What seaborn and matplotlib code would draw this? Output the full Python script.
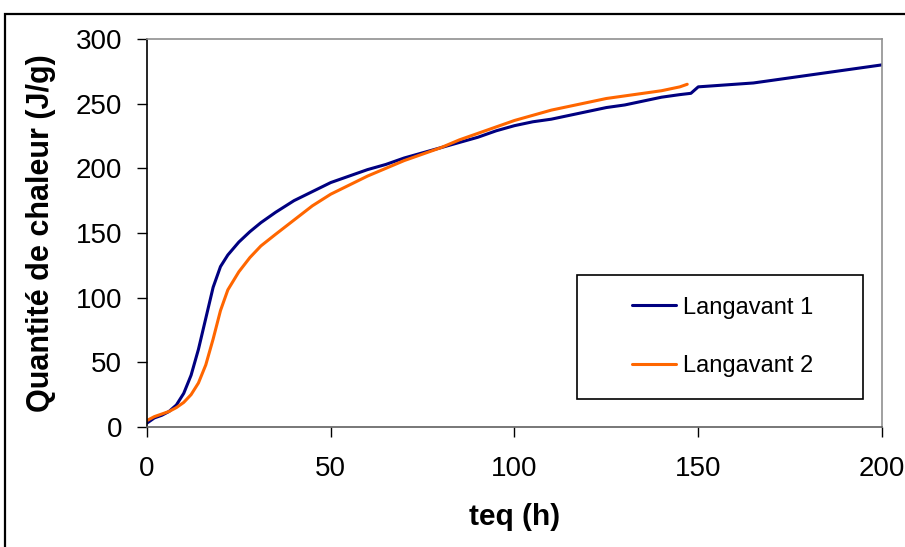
import seaborn as sns
import matplotlib.pyplot as plt
import matplotlib.patches as mpatches
import pandas as pd

# Langavant 1
t1 = [0, 2, 4, 6, 8, 10, 12, 14, 16, 18, 20, 22, 25, 28, 31, 35, 40, 45, 50, 55,
      60, 65, 70, 75, 80, 85, 90, 95, 100, 105, 110, 115, 120, 125, 130, 135, 140,
      145, 148, 150, 155, 160, 165, 170, 175, 180, 185, 190, 195, 200]
q1 = [3, 7, 9, 12, 17, 26, 40, 60, 84, 108, 124, 133, 143, 151, 158, 166, 175, 182,
      189, 194, 199, 203, 208, 212, 216, 220, 224, 229, 233, 236, 238, 241, 244,
      247, 249, 252, 255, 257, 258, 263, 264, 265, 266, 268, 270, 272, 274, 276,
      278, 280]

# Langavant 2
t2 = [0, 2, 4, 6, 8, 10, 12, 14, 16, 18, 20, 22, 25, 28, 31, 35, 40, 45, 50, 55,
      60, 65, 70, 75, 80, 85, 90, 95, 100, 105, 110, 115, 120, 125, 130, 135, 140,
      145, 147]
q2 = [5, 8, 10, 12, 15, 19, 25, 34, 48, 68, 90, 106, 120, 131, 140, 149, 160, 171,
      180, 187, 194, 200, 206, 211, 216, 222, 227, 232, 237, 241, 245, 248, 251,
      254, 256, 258, 260, 263, 265]

x_ticks = [0, 50, 100, 150, 200]
y_ticks = [0, 50, 100, 150, 200, 250, 300]

df = pd.concat([
    pd.DataFrame({'teq': t1, 'Q': q1, 'serie': 'Langavant 1'}),
    pd.DataFrame({'teq': t2, 'Q': q2, 'serie': 'Langavant 2'}),
])

sns.set_style('white')
plt.rcParams['font.family'] = ['Liberation Sans', 'DejaVu Sans']
plt.rcParams['text.color'] = 'black'
plt.rcParams['axes.labelcolor'] = 'black'
plt.rcParams['xtick.color'] = 'black'
plt.rcParams['ytick.color'] = 'black'

fig = plt.figure(figsize=(9.05, 5.47), dpi=100)
ax = fig.add_axes([0.1624, 0.2194, 0.8122, 0.7093])

sns.lineplot(data=df, x='teq', y='Q', hue='serie',
             palette={'Langavant 1': '#000080', 'Langavant 2': '#FF6600'},
             linewidth=2.2, ax=ax, sort=False)

ax.set_xlim(0, 200)
ax.set_ylim(0, 300)
ax.set_xticks(x_ticks)
ax.set_yticks(y_ticks)
ax.tick_params(axis='both', direction='out', length=7, width=1, color='black',
               labelcolor='black', labelsize=20, left=True, bottom=True)
ax.tick_params(axis='y', pad=11)
ax.tick_params(axis='x', pad=14)

ax.set_xlabel('teq (h)', fontsize=21.5, fontweight='bold', labelpad=15, color='black')
ax.set_ylabel('Quantité de chaleur (J/g)', fontsize=22, fontweight='bold',
              labelpad=14, color='black')

for side in ['top', 'right']:
    ax.spines[side].set_color('#909090')
    ax.spines[side].set_linewidth(1.2)
ax.spines['left'].set_color('black')
ax.spines['bottom'].set_color('#606060')
for side in ['left', 'bottom']:
    ax.spines[side].set_linewidth(1.2)

# legend box drawn separately
ax.add_patch(mpatches.Rectangle((0.585, 0.072), 0.389, 0.320, transform=ax.transAxes,
                                facecolor='white', edgecolor='black', linewidth=1.2,
                                zorder=4))
leg = ax.legend(loc='center', bbox_to_anchor=(0.7837, 0.232), frameon=False,
                fontsize=17, handlelength=1.86, handletextpad=0.3,
                labelspacing=1.55, borderpad=0)
leg.set_zorder(5)
for line in leg.get_lines():
    line.set_linewidth(2.2)

# outer chart frame (cut off on the right and bottom)
fig.patches.append(mpatches.Rectangle((5 / 905, -0.1), 1.2, (547 - 14) / 547 + 0.1,
                                      transform=fig.transFigure, fill=False,
                                      edgecolor='black', linewidth=1.6))

fig.savefig('out.png', dpi=100)
